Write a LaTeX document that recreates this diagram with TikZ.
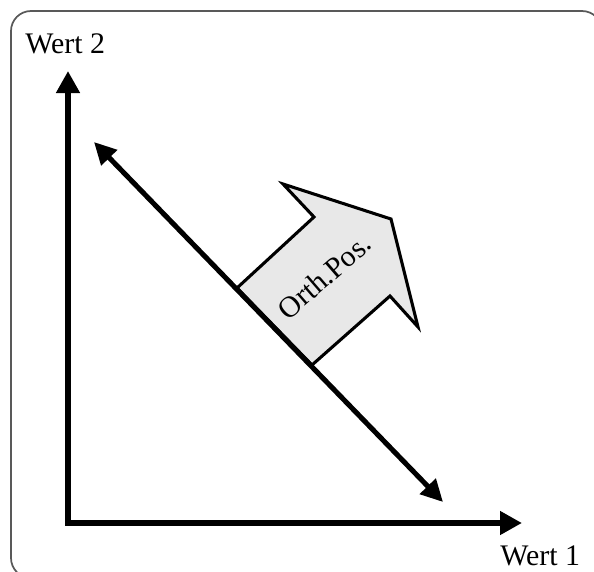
\documentclass[tikz,border=0pt]{standalone}
\usepackage{fontspec}
\setmainfont{Liberation Serif}
\usetikzlibrary{arrows.meta}

\begin{document}
\begin{tikzpicture}[x=0.75pt, y=-0.75pt,
    axisline/.style={line width=4.8pt, line join=miter},
    diagline/.style={line width=3.8pt, {Triangle[length=16.5pt, width=16pt]}-{Triangle[length=16.5pt, width=16pt]}},
    orthshape/.style={draw=black, fill=gray!18, line width=2.3pt, line join=miter},
    lbl/.style={inner sep=0pt, font=\fontsize{22.4}{27}\selectfont}]
    % Frame
    \clip (0,0) rectangle (594,572);
    \draw[gray!70!black, line width=1.3pt, rounded corners=15pt] (11,11) rectangle (602,578);

    % Coordinates
    \coordinate (origin) at (68,523);
    \coordinate (xend) at (522,523);
    \coordinate (yend) at (68,71);
    \coordinate (dstart) at (94,142);
    \coordinate (dend) at (443,502);

    % Orthogonal arrow
    \coordinate (baseA) at (237,288);
    \coordinate (notchA) at (314,217);
    \coordinate (barbA) at (283,184);
    \coordinate (tip) at (391,219);
    \coordinate (barbB) at (418,327);
    \coordinate (notchB) at (390,296);
    \coordinate (baseB) at (312,365);
    \filldraw[orthshape] (baseA) -- (notchA) -- (barbA) -- (tip) -- (barbB) -- (notchB) -- (baseB) -- cycle;
    \node (orth) [lbl, rotate=41, anchor=base] at (331,284) {Orth.Pos.};

    % Connections
    \draw[diagline] (dstart) -- (dend);
    \draw[axisline, {Triangle[length=16.5pt, width=17pt]}-{Triangle[length=16.5pt, width=17pt]}] (yend) -- (origin) -- (xend);

    % Labels
    \node (wert2) [lbl, anchor=base west] at (25,53) {Wert 2};
    \node (wert1) [lbl, anchor=base west] at (500,565) {Wert 1};
\end{tikzpicture}
\end{document}
